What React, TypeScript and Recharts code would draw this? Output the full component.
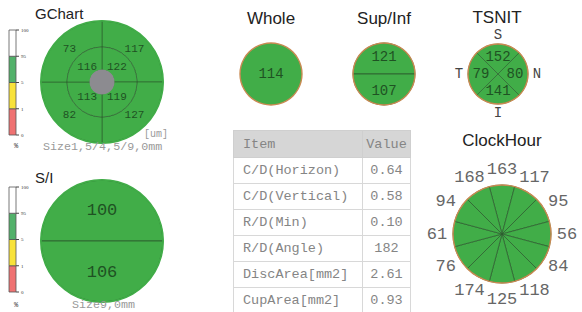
import React from 'react';
import { PieChart, Pie, BarChart, Bar, XAxis, YAxis } from 'recharts';

// GChart sectors, clockwise from 12 o'clock (UR, LR, LL, UL)
const gchartOuter = [117, 127, 82, 73];
const gchartInner = [122, 119, 113, 116];
// S/I halves (sup, inf)
const siValues = [100, 106];
const wholeValue = [114];
const supInfValues = [121, 107];
// TSNIT sectors: S, N, I, T
const tsnitValues = [152, 80, 141, 79];
const tsnitLetters = ['S', 'N', 'I', 'T'];
// ClockHour 12,1,2,...,11
const clockHourValues = [163, 117, 95, 56, 84, 118, 125, 174, 76, 61, 94, 168];

const tableItems = ['C/D(Horizon)', 'C/D(Vertical)', 'R/D(Min)', 'R/D(Angle)', 'DiscArea[mm2]', 'CupArea[mm2]'];
const tableValues = ['0.64', '0.58', '0.10', '182', '2.61', '0.93'];

const scaleTicks = ['0', '1', '5', '95', '100'];
const scaleBands = [{ red: 1, yellow: 1, green: 1, white: 1 }];

const GREEN = '#41ad48';
const LINE = '#2c5a2e';
const RIM = '#c98a52';
const NUM = '#1f5223';
const MONO = '"Liberation Mono", "Courier New", monospace';
const SANS = '"Liberation Sans", Arial, sans-serif';
const RAD = Math.PI / 180;

const slices = (vals: number[]) => vals.map((v) => ({ v, size: 1 }));
const ring = [{ size: 1 }];

// text placed at radius r on the slice's mid angle
const polarLabel = (vals: (number | string)[], r: number, size: number, color = NUM) => (p: any) => {
  const x = p.cx + r * Math.cos(-p.midAngle * RAD);
  const y = p.cy + r * Math.sin(-p.midAngle * RAD);
  return (
    <text key={p.index} x={x} y={y} textAnchor="middle" dominantBaseline="central" fontSize={size} fill={color} fontFamily={MONO}>
      {vals[p.index]}
    </text>
  );
};

function ScaleBar({ top }: { top: number }) {
  return (
    <div style={{ position: 'absolute', left: 0, top }}>
      <BarChart width={34} height={113} data={scaleBands} margin={{ top: 4, right: 0, bottom: 4, left: 9 }} barCategoryGap={0}>
        <XAxis hide />
        <YAxis
          orientation="right"
          width={18}
          domain={[0, 4]}
          ticks={[0, 1, 2, 3, 4]}
          tickFormatter={(t: number) => scaleTicks[t]}
          tick={{ fontSize: 5, fill: '#333' }}
          tickSize={3}
          axisLine={false}
          tickLine={{ stroke: '#444' }}
        />
        <Bar dataKey="red" stackId="s" fill="#ef7272" stroke="#555" strokeWidth={0.8} isAnimationActive={false} />
        <Bar dataKey="yellow" stackId="s" fill="#f8e23a" stroke="#555" strokeWidth={0.8} isAnimationActive={false} />
        <Bar dataKey="green" stackId="s" fill="#52b16a" stroke="#555" strokeWidth={0.8} isAnimationActive={false} />
        <Bar dataKey="white" stackId="s" fill="#ffffff" stroke="#555" strokeWidth={0.8} isAnimationActive={false} />
      </BarChart>
    </div>
  );
}

const title = (text: string, x: number, y: number, size: number, align: 'left' | 'center' = 'center') => (
  <div
    style={{
      position: 'absolute',
      left: align === 'center' ? x - 60 : x,
      width: align === 'center' ? 120 : undefined,
      top: y,
      fontSize: size,
      fontFamily: SANS,
      color: '#222',
      textAlign: align,
      lineHeight: 1,
      whiteSpace: 'nowrap',
    }}
  >
    {text}
  </div>
);

const mono = (text: string, x: number, y: number, size: number, color = '#999') => (
  <div style={{ position: 'absolute', left: x, top: y, fontSize: size, fontFamily: MONO, color, lineHeight: 1, whiteSpace: 'nowrap' }}>
    {text}
  </div>
);

export default function App() {
  const g = { cx: 102, cy: 82 };
  const si = { cx: 102, cy: 241 };
  const wh = { cx: 271, cy: 74 };
  const sup = { cx: 384, cy: 74 };
  const ts = { cx: 498, cy: 74 };
  const ch = { cx: 502, cy: 234 };

  return (
    <div style={{ position: 'absolute', left: 0, top: 0, width: 582, height: 312, background: '#fff', overflow: 'hidden' }}>
      <div style={{ position: 'absolute', left: 0, top: 0 }}>
        <PieChart width={582} height={312} margin={{ top: 0, right: 0, bottom: 0, left: 0 }}>
          {/* GChart */}
          <Pie data={slices(gchartOuter)} dataKey="size" {...g} innerRadius={35} outerRadius={61} startAngle={90} endAngle={-270}
            fill={GREEN} stroke={LINE} strokeWidth={0.6} label={polarLabel(gchartOuter, 46, 11)} labelLine={false} isAnimationActive={false} />
          <Pie data={slices(gchartInner)} dataKey="size" {...g} innerRadius={12} outerRadius={35} startAngle={90} endAngle={-270}
            fill={GREEN} stroke={LINE} strokeWidth={0.6} label={polarLabel(gchartInner, 21, 11)} labelLine={false} isAnimationActive={false} />
          <Pie data={ring} dataKey="size" {...g} innerRadius={0} outerRadius={12.5} fill="#8c8b90" stroke="none" isAnimationActive={false} />
          <Pie data={ring} dataKey="size" {...g} innerRadius={60.2} outerRadius={62} fill={GREEN} stroke="none" isAnimationActive={false} />

          {/* S/I */}
          <Pie data={slices(siValues)} dataKey="size" {...si} innerRadius={0} outerRadius={61} startAngle={180} endAngle={-180}
            fill={GREEN} stroke={LINE} strokeWidth={0.8} label={polarLabel(siValues, 31, 17)} labelLine={false} isAnimationActive={false} />
          <Pie data={ring} dataKey="size" {...si} innerRadius={60.2} outerRadius={62} fill={GREEN} stroke="none" isAnimationActive={false} />

          {/* Whole */}
          <Pie data={slices(wholeValue)} dataKey="size" {...wh} innerRadius={0} outerRadius={31} fill={GREEN} stroke="none"
            label={(p: any) => (
              <text key="w" x={p.cx} y={p.cy} textAnchor="middle" dominantBaseline="central" fontSize={14} fill={NUM} fontFamily={MONO}>
                {wholeValue[p.index]}
              </text>
            )}
            labelLine={false} isAnimationActive={false} />
          <Pie data={ring} dataKey="size" {...wh} innerRadius={30.3} outerRadius={31.7} fill={RIM} stroke="none" isAnimationActive={false} />

          {/* Sup/Inf */}
          <Pie data={slices(supInfValues)} dataKey="size" {...sup} innerRadius={0} outerRadius={31} startAngle={180} endAngle={-180}
            fill={GREEN} stroke={LINE} strokeWidth={0.8} label={polarLabel(supInfValues, 17, 14)} labelLine={false} isAnimationActive={false} />
          <Pie data={ring} dataKey="size" {...sup} innerRadius={30.3} outerRadius={31.7} fill={RIM} stroke="none" isAnimationActive={false} />

          {/* TSNIT */}
          <Pie data={slices(tsnitValues)} dataKey="size" {...ts} innerRadius={0} outerRadius={30} startAngle={135} endAngle={-225}
            fill={GREEN} stroke={LINE} strokeWidth={0.6}
            label={(p: any) => (
              <g key={p.index}>
                {polarLabel(tsnitValues, 17, 14)(p)}
                {polarLabel(tsnitLetters, 39, 14, '#444')(p)}
              </g>
            )}
            labelLine={false} isAnimationActive={false} />
          <Pie data={ring} dataKey="size" {...ts} innerRadius={29.3} outerRadius={30.7} fill={RIM} stroke="none" isAnimationActive={false} />

          {/* ClockHour */}
          <Pie data={slices(clockHourValues)} dataKey="size" {...ch} innerRadius={0} outerRadius={49} startAngle={105} endAngle={-255}
            fill={GREEN} stroke={LINE} strokeWidth={0.7} label={polarLabel(clockHourValues, 65, 17, '#666')} labelLine={false} isAnimationActive={false} />
          <Pie data={ring} dataKey="size" {...ch} innerRadius={48.3} outerRadius={49.7} fill={RIM} stroke="none" isAnimationActive={false} />
          <Pie data={ring} dataKey="size" {...ch} innerRadius={0} outerRadius={1.8} fill="#111" stroke="none" isAnimationActive={false} />
        </PieChart>
      </div>

      <ScaleBar top={26} />
      <ScaleBar top={183} />
      {mono('%', 14, 143, 7, '#333')}
      {mono('%', 14, 302, 7, '#333')}

      {title('GChart', 35, 6, 15, 'left')}
      {title('S/I', 35, 170, 15, 'left')}
      {title('Whole', 271, 10, 17)}
      {title('Sup/Inf', 384, 10, 17)}
      {title('TSNIT', 497, 9, 17)}
      {title('ClockHour', 502, 132, 17)}

      {mono('[um]', 144, 130, 10)}
      {mono('Size1,5/4,5/9,0mm', 43, 142, 11.7)}
      {mono('Size9,0mm', 72, 300, 11.7)}

      <table
        style={{
          position: 'absolute',
          left: 233,
          top: 130,
          width: 178,
          borderCollapse: 'collapse',
          fontFamily: MONO,
          fontSize: 13.5,
          color: '#858585',
        }}
      >
        <tbody>
          <tr style={{ background: '#d6d6d6', height: 27 }}>
            <td style={{ border: '1px solid #cfcfcf', padding: '0 0 0 9px', width: 119 }}>Item</td>
            <td style={{ border: '1px solid #cfcfcf', padding: 0, textAlign: 'center' }}>Value</td>
          </tr>
          {tableItems.map((item, i) => (
            <tr key={item} style={{ height: 26 }}>
              <td style={{ border: '1px solid #d8d8d8', padding: '0 0 0 9px' }}>{item}</td>
              <td style={{ border: '1px solid #d8d8d8', padding: 0, textAlign: 'center' }}>{tableValues[i]}</td>
            </tr>
          ))}
        </tbody>
      </table>
    </div>
  );
}
